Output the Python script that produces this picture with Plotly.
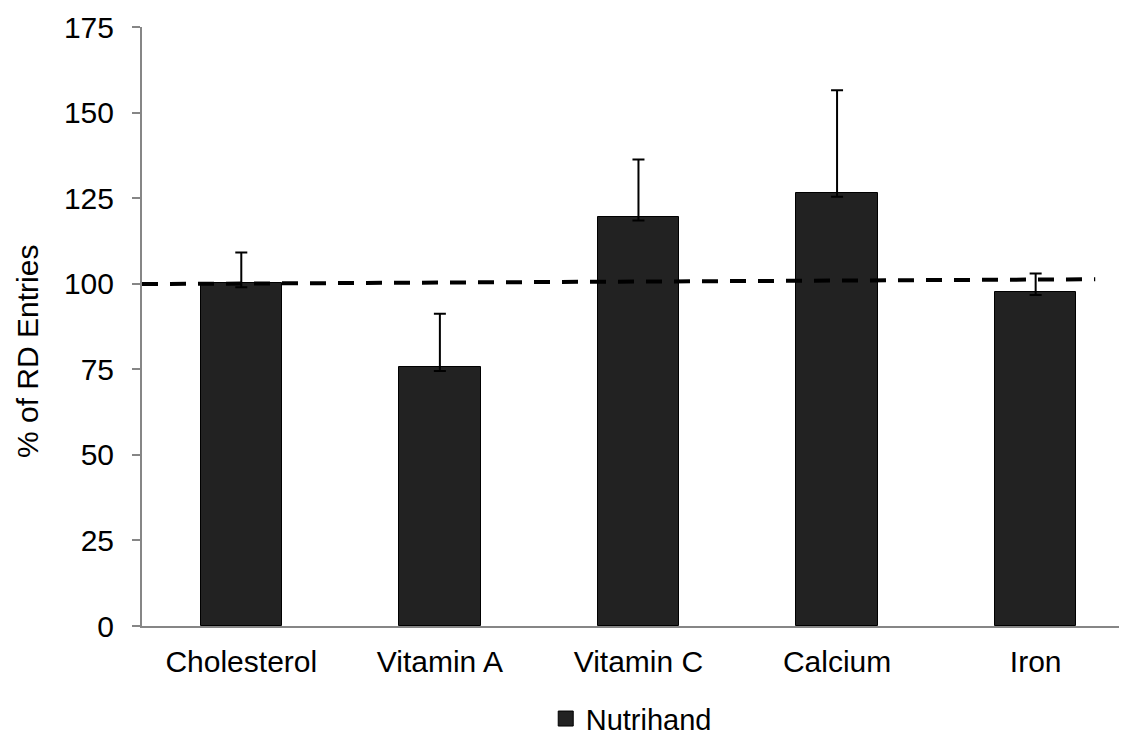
import plotly.graph_objects as go

categories = ["Cholesterol", "Vitamin A", "Vitamin C", "Calcium", "Iron"]
values = [100.2, 75.7, 119.4, 126.6, 97.7]
err_plus = [8.9, 15.5, 16.9, 29.9, 5.3]
err_minus = [1.2, 1.2, 0.9, 1.2, 1.0]
ref_x = [-0.5, 4.30]
ref_y = [99.9, 101.3]
y_ticks = [0, 25, 50, 75, 100, 125, 150, 175]
series_name = "Nutrihand"
y_title = "% of RD Entries"

positions = list(range(len(categories)))
FONT = "Arial, Liberation Sans, sans-serif"
BAR_COLOR = "#222222"

fig = go.Figure()
fig.add_trace(go.Bar(
    x=positions, y=values, name=series_name, width=0.41, showlegend=False,
    marker=dict(color=BAR_COLOR, line=dict(color="#000000", width=1)),
    error_y=dict(type="data", symmetric=False, array=err_plus, arrayminus=err_minus,
                 color="#000000", thickness=2, width=6),
))
fig.add_trace(go.Scatter(
    x=ref_x, y=ref_y, mode="lines", showlegend=False, hoverinfo="skip",
    line=dict(color="#000000", width=4, dash="16px,12px"),
))
# legend entry with a larger square swatch
fig.add_trace(go.Scatter(
    x=[None], y=[None], mode="markers", name=series_name,
    marker=dict(symbol="square", size=15, color=BAR_COLOR, line=dict(color="#000000", width=1)),
))

fig.update_layout(
    width=1127, height=738,
    margin=dict(l=134, r=8, t=19, b=120, autoexpand=False),
    paper_bgcolor="white", plot_bgcolor="white",
    font=dict(family=FONT, size=30, color="#000000"),
    showlegend=True,
    legend=dict(orientation="h", xref="container", yref="container",
                x=0.553, xanchor="center", y=0.037, yanchor="middle",
                font=dict(size=29), itemwidth=30),
    bargap=0,
)
fig.add_annotation(
    text=y_title, xref="paper", yref="paper", x=-0.1168, y=0.459,
    xanchor="center", yanchor="middle", textangle=-90, showarrow=False,
    font=dict(size=30, family=FONT, color="#000000"),
)
fig.update_xaxes(
    range=[-0.5, 4.46], tickmode="array", tickvals=positions, ticktext=categories,
    showgrid=False, zeroline=False, showline=True, linecolor="#868686", linewidth=2,
    ticks="", tickfont=dict(size=30), ticklabelstandoff=8, automargin=False,
)
fig.update_yaxes(
    range=[0, 175], tickmode="array", tickvals=y_ticks,
    showgrid=False, zeroline=False, showline=True, linecolor="#868686", linewidth=2,
    ticks="outside", ticklen=8, tickcolor="#868686", tickwidth=2,
    tickfont=dict(size=30), ticklabelstandoff=12, automargin=False,
)

fig.write_html("out.html")
